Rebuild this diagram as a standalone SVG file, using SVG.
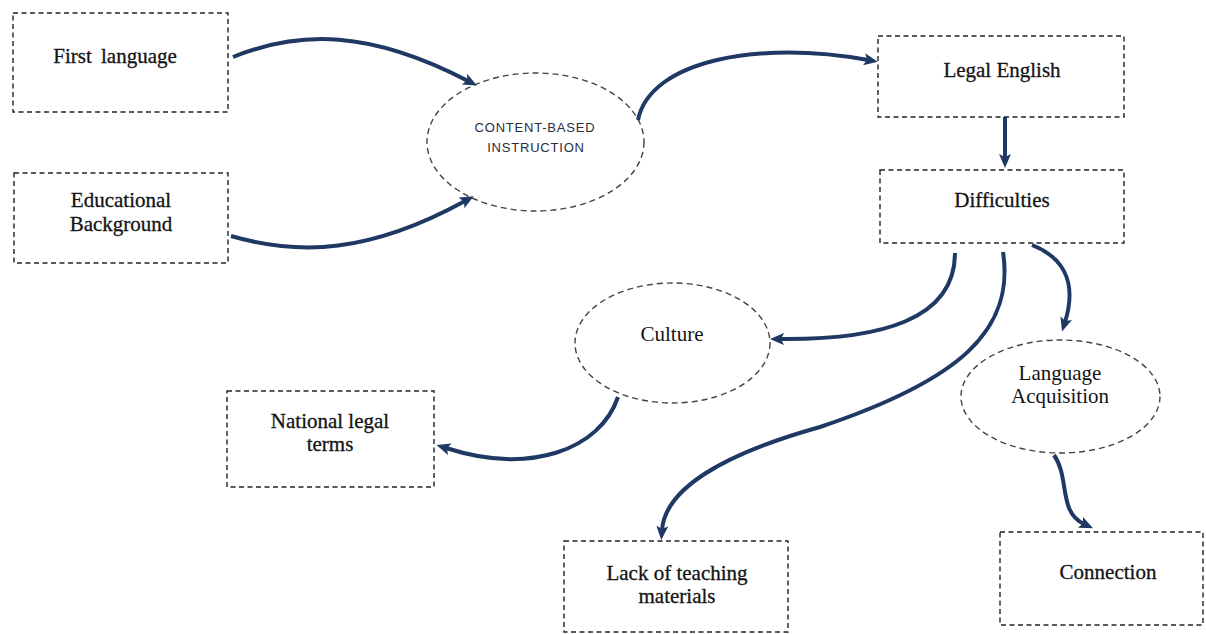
<svg xmlns="http://www.w3.org/2000/svg" width="1206" height="634" viewBox="0 0 1206 634">
<style>
.box{fill:#fff;stroke:#222;stroke-width:1.4;stroke-dasharray:5 3.5}
.ell{fill:#fff;stroke:#444;stroke-width:1.4;stroke-dasharray:6 4}
.t{font-family:"Liberation Serif","Times New Roman",serif;font-size:21px;fill:#141414;text-anchor:middle}
.b{stroke:#141414;stroke-width:0.3}
.s{font-family:"Liberation Sans",Arial,sans-serif;font-size:13px;fill:#2a2d3e;text-anchor:middle;letter-spacing:0.8px}
.c{fill:none;stroke:#1f3864;stroke-width:4;marker-end:url(#ah)}
</style>
<defs>
<marker id="ah" viewBox="0 0 14 12" refX="4" refY="6" markerWidth="14" markerHeight="12" markerUnits="userSpaceOnUse" orient="auto">
<path d="M0,0 L14,6 L0,12 L3,6 Z" fill="#1f3864"/>
</marker>
</defs>
<rect width="1206" height="634" fill="#fff"/>
<g id="first-language">
<rect class="box" x="13" y="13" width="215" height="99"/>
<text class="t b" x="115" y="63" word-spacing="4">First language</text>
</g>
<g id="educational-background">
<rect class="box" x="14" y="173" width="214" height="90"/>
<text class="t b" x="121" y="207">Educational</text>
<text class="t b" x="121" y="231">Background</text>
</g>
<g id="content-based-instruction">
<ellipse class="ell" cx="535.5" cy="142" rx="108.5" ry="69"/>
<text class="s" x="535" y="132">CONTENT-BASED</text>
<text class="s" x="536" y="152">INSTRUCTION</text>
</g>
<g id="legal-english">
<rect class="box" x="878" y="36" width="246" height="81"/>
<text class="t b" x="1002" y="77">Legal English</text>
</g>
<g id="difficulties">
<rect class="box" x="880" y="170" width="244" height="73"/>
<text class="t b" x="1002" y="207">Difficulties</text>
</g>
<g id="culture">
<ellipse class="ell" cx="672.5" cy="343" rx="97.5" ry="60"/>
<text class="t" x="672" y="341">Culture</text>
</g>
<g id="language-acquisition">
<ellipse class="ell" cx="1060.5" cy="396.5" rx="99.5" ry="56.5"/>
<text class="t" x="1060" y="380">Language</text>
<text class="t" x="1060" y="403">Acquisition</text>
</g>
<g id="national-legal-terms">
<rect class="box" x="227" y="391" width="207" height="96"/>
<text class="t b" x="330" y="428">National legal</text>
<text class="t b" x="330" y="451">terms</text>
</g>
<g id="lack-of-teaching-materials">
<rect class="box" x="564" y="541" width="224" height="91"/>
<text class="t b" x="677" y="580">Lack of teaching</text>
<text class="t b" x="677" y="603">materials</text>
</g>
<g id="connection">
<rect class="box" x="1000" y="532" width="203" height="93"/>
<text class="t b" x="1108" y="579">Connection</text>
</g>
<g id="connectors">
<path class="c" d="M233,57 C300,30 370,30 468,81"/>
<path class="c" d="M231,236 C300,256 370,253 465,201"/>
<path class="c" d="M638,120 C650,60 760,40 868,60"/>
<path class="c" d="M1005,117 L1005,158"/>
<path class="c" d="M955,253 C955,320 880,340 780,339"/>
<path class="c" d="M1003,252 C1015,330 960,380 820,427 C720,455 665,490 662,530"/>
<path class="c" d="M1032,245 C1070,260 1075,290 1065,322"/>
<path class="c" d="M1054,455 C1070,478 1058,512 1084,524"/>
<path class="c" d="M618,397 C600,450 530,475 446,448"/>
</g>
</svg>
